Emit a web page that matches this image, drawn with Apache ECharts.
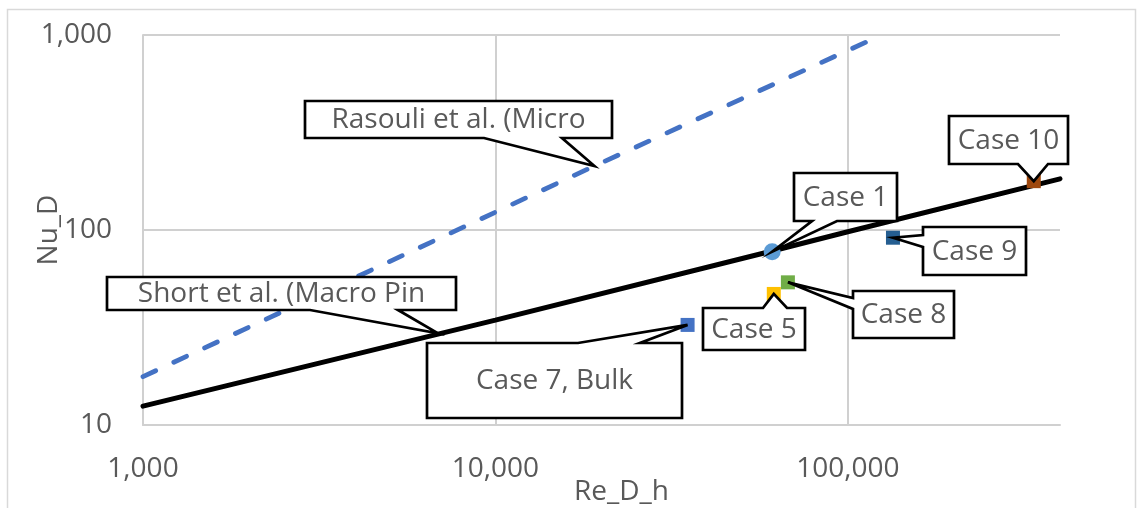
<!DOCTYPE html>
<html>
<head>
<meta charset="utf-8">
<script src="https://cdn.jsdelivr.net/npm/echarts@6/dist/echarts.min.js"></script>
<style>
  html, body { margin: 0; padding: 0; background: #fff; }
  #chart { width: 1143px; height: 508px; }
</style>
</head>
<body>
<div id="chart"></div>
<script>
// Axis ranges (log10 scales)
const reRange = [1000, 400000];
const nuRange = [10, 1000];

// Correlation curves: Nu_D against Re_D_h
const shortRe = [1000, 10000, 61000, 100000, 400000];
const shortNu = [12.5, 34.5, 78, 98, 183];
const rasouliRe = [1000, 19100, 115000];
const rasouliNu = [17.7, 213, 935];

// Simulated cases
const caseNames = ['Case 1', 'Case 5', 'Case 7, Bulk', 'Case 8', 'Case 9', 'Case 10'];
const caseRe = [61000, 61650, 35100, 67600, 134300, 337000];
const caseNu = [77.4, 47.0, 32.6, 53.9, 91.3, 178];

// Callout anchors for the two correlation curves
const curveNames = ['Rasouli et al. (Micro', 'Short et al. (Macro Pin'];
const curveAnchorRe = [19100, 6870];
const curveAnchorNu = [213, 29.5];

// ---- styling / layout (kept apart from the values) ----
const FONT = '"Open Sans", "Noto Sans", sans-serif';
const FS = 28;
const TEXT = '#595959';
const GRID = '#d0d0d0';
const caseStyle = [
  { symbol: 'circle', size: 17, color: '#5B9BD5' },
  { symbol: 'rect', size: 14, color: '#FFC000' },
  { symbol: 'rect', size: 14, color: '#4472C4' },
  { symbol: 'rect', size: 14, color: '#70AD47' },
  { symbol: 'rect', size: 14, color: '#255E91' },
  { symbol: 'rect', size: 14, color: '#9E480E' }
];
// Callout box offsets from the pointed-at location (px), box size, and the
// side/extent of the wedge base along that side.
const caseCallout = [
  { dx: 22, dy: -79, w: 103, h: 48, side: 'bottom', b0: 18, b1: 43 },
  { dx: -71, dy: 14, w: 102, h: 42, side: 'top', b0: 60, b1: 84 },
  { dx: -261, dy: 18, w: 255, h: 75, side: 'top', b0: 151, b1: 213 },
  { dx: 65, dy: 9, w: 101, h: 47, side: 'left', b0: 7, b1: 18 },
  { dx: 30, dy: -11, w: 103, h: 48, side: 'left', b0: 8, b1: 20 },
  { dx: -85, dy: -65, w: 119, h: 48, side: 'bottom', b0: 69, b1: 99 }
];
const curveCallout = [
  { dx: -289, dy: -65, w: 307, h: 37, side: 'bottom', b0: 179, b1: 257 },
  { dx: -331, dy: -56, w: 349, h: 33, side: 'bottom', b0: 203, b1: 291 }
];

const zip = (a, b) => a.map((v, i) => [v, b[i]]);

// Callout entries: [Re, Nu, index into text/layout lists]
const calloutTexts = caseNames.concat(curveNames);
const calloutLayouts = caseCallout.concat(curveCallout);
const calloutData = caseRe.map((r, i) => [r, caseNu[i], i])
  .concat(curveAnchorRe.map((r, i) => [r, curveAnchorNu[i], caseNames.length + i]));

function calloutPoints(bx, by, L, tx, ty) {
  const x0 = bx, y0 = by, x1 = bx + L.w, y1 = by + L.h;
  switch (L.side) {
    case 'top':
      return [[x0, y0], [x0 + L.b0, y0], [tx, ty], [x0 + L.b1, y0], [x1, y0], [x1, y1], [x0, y1]];
    case 'right':
      return [[x0, y0], [x1, y0], [x1, y0 + L.b0], [tx, ty], [x1, y0 + L.b1], [x1, y1], [x0, y1]];
    case 'left':
      return [[x0, y0], [x1, y0], [x1, y1], [x0, y1], [x0, y0 + L.b1], [tx, ty], [x0, y0 + L.b0]];
    default:
      return [[x0, y0], [x1, y0], [x1, y1], [x0 + L.b1, y1], [tx, ty], [x0 + L.b0, y1], [x0, y1]];
  }
}

const fmt = v => Number(v).toLocaleString('en-US');

const chart = echarts.init(document.getElementById('chart'));
chart.setOption({
  animation: false,
  backgroundColor: '#fff',
  grid: { left: 143, top: 35, right: 83, bottom: 83, containLabel: false, outerBoundsMode: 'none' },
  graphic: [{
    type: 'rect', silent: true, z: -10,
    shape: { x: 7.5, y: 9.5, width: 1128, height: 520 },
    style: { fill: 'none', stroke: '#d9d9d9', lineWidth: 1.5 }
  }],
  xAxis: {
    type: 'log', logBase: 10, min: reRange[0], max: reRange[1],
    name: 'Re_D_h', nameLocation: 'middle', nameGap: 53, nameMoveOverlap: false,
    nameTextStyle: { color: TEXT, fontSize: FS, fontFamily: FONT, padding: [0, 0, 0, 40] },
    axisLine: { show: true, lineStyle: { color: GRID, width: 2 } },
    axisTick: { show: false },
    axisLabel: { color: TEXT, fontSize: FS, fontFamily: FONT, margin: 30, formatter: fmt, showMaxLabel: false },
    splitLine: { show: true, showMaxLine: false, lineStyle: { color: GRID, width: 2 } }
  },
  yAxis: {
    type: 'log', logBase: 10, min: nuRange[0], max: nuRange[1],
    name: 'Nu_D', nameLocation: 'middle', nameGap: 80, nameRotate: 90, nameMoveOverlap: false,
    nameTextStyle: { color: TEXT, fontSize: FS, fontFamily: FONT, padding: [0, 0, 0, 0] },
    axisLine: { show: true, lineStyle: { color: GRID, width: 2 } },
    axisTick: { show: false },
    axisLabel: { color: TEXT, fontSize: FS, fontFamily: FONT, margin: 31, formatter: fmt },
    splitLine: { show: true, lineStyle: { color: GRID, width: 2 } }
  },
  series: [
    {
      name: 'Rasouli et al. (Micro', type: 'line', z: 2,
      data: zip(rasouliRe, rasouliNu), symbol: 'none', smooth: false,
      lineStyle: { color: '#4472C4', width: 4.8, type: [14, 20], cap: 'round' }
    },
    {
      name: 'Short et al. (Macro Pin', type: 'line', z: 3,
      data: zip(shortRe, shortNu), symbol: 'none', smooth: false,
      lineStyle: { color: '#000', width: 5, cap: 'round' }
    },
    {
      name: 'Cases', type: 'scatter', z: 4,
      data: caseRe.map((r, i) => ({
        name: caseNames[i],
        value: [r, caseNu[i]],
        symbol: caseStyle[i].symbol,
        symbolSize: caseStyle[i].size,
        itemStyle: { color: caseStyle[i].color, opacity: 1 }
      }))
    },
    {
      name: 'Callouts', type: 'custom', z: 10, clip: false,
      data: calloutData,
      renderItem: function (params, api) {
        const i = api.value(2);
        const p = api.coord([api.value(0), api.value(1)]);
        const L = calloutLayouts[i];
        const bx = Math.round(p[0] + L.dx);
        const by = Math.round(p[1] + L.dy);
        return {
          type: 'group',
          children: [
            {
              type: 'polygon',
              shape: { points: calloutPoints(bx, by, L, p[0], p[1]) },
              style: { fill: '#fff', stroke: '#000', lineWidth: 2.7, lineJoin: 'miter' }
            },
            {
              type: 'text',
              style: {
                text: calloutTexts[i], x: bx + L.w / 2, y: by + L.h / 2 + 1,
                align: 'center', verticalAlign: 'middle',
                fill: TEXT, fontSize: FS, fontFamily: FONT
              }
            }
          ]
        };
      }
    }
  ]
});
</script>
</body>
</html>
